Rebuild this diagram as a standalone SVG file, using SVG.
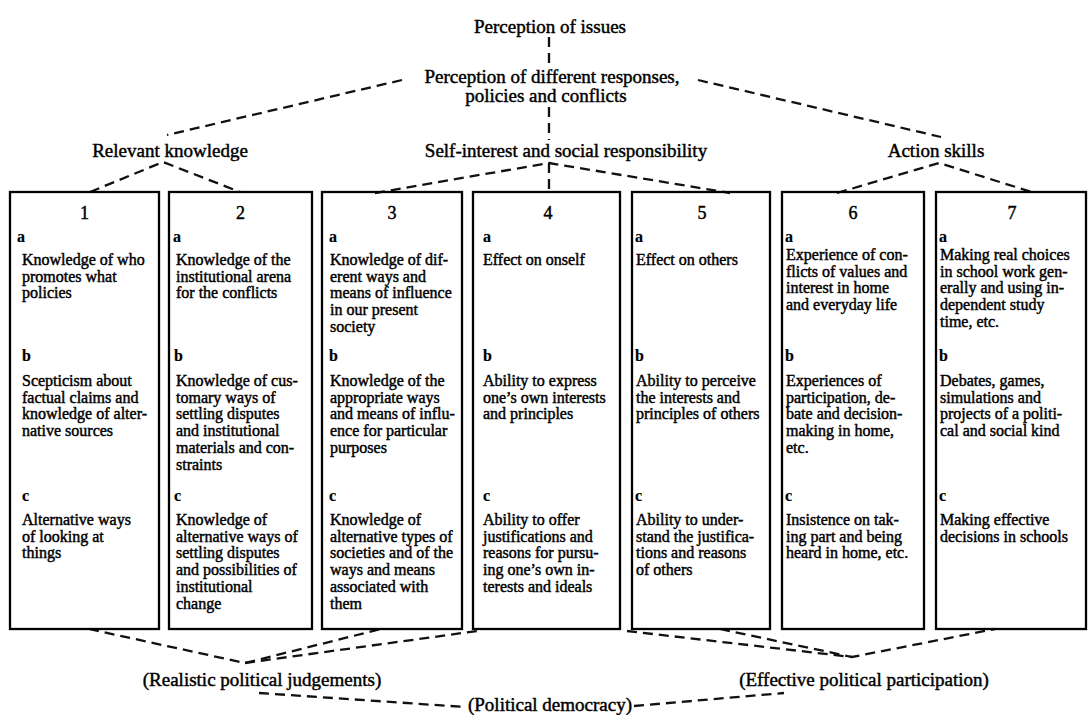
<svg xmlns="http://www.w3.org/2000/svg" width="1088" height="715" viewBox="0 0 1088 715">
<style>
  .bg { fill:#fff; }
  .box { fill:none; stroke:#000; stroke-width:2.3; }
  .dash { fill:none; stroke:#111; stroke-width:2.3; stroke-dasharray:10 6; }
  text { font-family:"Liberation Serif", "Times New Roman", serif; fill:#000; stroke:#000; stroke-width:0.45; }
  .h { font-size:19px; text-anchor:middle; }
  .num { font-size:18px; text-anchor:middle; }
  .lbl { font-size:16px; font-weight:bold; stroke-width:0.2; }
  .t { font-size:16px; }
</style>
<rect class="bg" x="0" y="0" width="1088" height="715"/>

<g id="connectors">
  <line class="dash" x1="549" y1="37" x2="549" y2="65"/>
  <line class="dash" x1="549" y1="107" x2="549" y2="140"/>
  <line class="dash" x1="402" y1="80" x2="167" y2="135"/>
  <line class="dash" x1="698" y1="80" x2="941" y2="137"/>
  <polyline class="dash" points="90,192 163,162 240,192"/>
  <polyline class="dash" points="375,193 549,163 730,193"/>
  <line class="dash" x1="549" y1="163" x2="549" y2="192"/>
  <polyline class="dash" points="837,193 939,163 1035,193"/>
  <polyline class="dash" points="89,629 245,663 381,629"/>
  <line class="dash" x1="245" y1="663" x2="477" y2="631"/>
  <polyline class="dash" points="627,631 852,657 995,629"/>
  <line class="dash" x1="720" y1="629" x2="852" y2="657"/>
  <line class="dash" x1="259" y1="693" x2="465" y2="707"/>
  <line class="dash" x1="634" y1="706" x2="784" y2="693"/>
</g>

<g id="header-issues"><text class="h" x="550" y="33">Perception of issues</text></g>
<g id="header-responses">
  <text class="h" x="552" y="83">Perception of different responses,</text>
  <text class="h" x="546" y="102">policies and conflicts</text>
</g>
<g id="header-knowledge"><text class="h" x="170" y="157">Relevant knowledge</text></g>
<g id="header-self"><text class="h" x="566" y="157">Self-interest and social responsibility</text></g>
<g id="header-action"><text class="h" x="936" y="157">Action skills</text></g>

<g id="box1">
  <rect class="box" x="10" y="192" width="149" height="437"/>
  <text class="num" x="84.5" y="219">1</text>
  <text class="lbl" x="17" y="242">a</text>
  <text class="t" x="22" y="265"><tspan x="22">Knowledge of who</tspan><tspan x="22" dy="16.7">promotes what</tspan><tspan x="22" dy="16.7">policies</tspan></text>
  <text class="lbl" x="22" y="361">b</text>
  <text class="t" x="22" y="386"><tspan x="22">Scepticism about</tspan><tspan x="22" dy="16.7">factual claims and</tspan><tspan x="22" dy="16.7">knowledge of alter-</tspan><tspan x="22" dy="16.7">native sources</tspan></text>
  <text class="lbl" x="22" y="501">c</text>
  <text class="t" x="22" y="525"><tspan x="22">Alternative ways</tspan><tspan x="22" dy="16.7">of looking at</tspan><tspan x="22" dy="16.7">things</tspan></text>
</g>

<g id="box2">
  <rect class="box" x="169" y="192" width="143" height="437"/>
  <text class="num" x="240.5" y="219">2</text>
  <text class="lbl" x="173" y="242">a</text>
  <text class="t" x="176" y="265"><tspan x="176">Knowledge of the</tspan><tspan x="176" dy="16.7">institutional arena</tspan><tspan x="176" dy="16.7">for the conflicts</tspan></text>
  <text class="lbl" x="174" y="361">b</text>
  <text class="t" x="176" y="386"><tspan x="176">Knowledge of cus-</tspan><tspan x="176" dy="16.7">tomary ways of</tspan><tspan x="176" dy="16.7">settling disputes</tspan><tspan x="176" dy="16.7">and institutional</tspan><tspan x="176" dy="16.7">materials and con-</tspan><tspan x="176" dy="16.7">straints</tspan></text>
  <text class="lbl" x="174" y="501">c</text>
  <text class="t" x="176" y="525"><tspan x="176">Knowledge of</tspan><tspan x="176" dy="16.7">alternative ways of</tspan><tspan x="176" dy="16.7">settling disputes</tspan><tspan x="176" dy="16.7">and possibilities of</tspan><tspan x="176" dy="16.7">institutional</tspan><tspan x="176" dy="16.7">change</tspan></text>
</g>

<g id="box3">
  <rect class="box" x="322" y="192" width="140" height="437"/>
  <text class="num" x="392" y="219">3</text>
  <text class="lbl" x="329" y="242">a</text>
  <text class="t" x="330" y="265"><tspan x="330">Knowledge of dif-</tspan><tspan x="330" dy="16.7">erent ways and</tspan><tspan x="330" dy="16.7">means of influence</tspan><tspan x="330" dy="16.7">in our present</tspan><tspan x="330" dy="16.7">society</tspan></text>
  <text class="lbl" x="329" y="361">b</text>
  <text class="t" x="330" y="386"><tspan x="330">Knowledge of the</tspan><tspan x="330" dy="16.7">appropriate ways</tspan><tspan x="330" dy="16.7">and means of influ-</tspan><tspan x="330" dy="16.7">ence for particular</tspan><tspan x="330" dy="16.7">purposes</tspan></text>
  <text class="lbl" x="329" y="501">c</text>
  <text class="t" x="330" y="525"><tspan x="330">Knowledge of</tspan><tspan x="330" dy="16.7">alternative types of</tspan><tspan x="330" dy="16.7">societies and of the</tspan><tspan x="330" dy="16.7">ways and means</tspan><tspan x="330" dy="16.7">associated with</tspan><tspan x="330" dy="16.7">them</tspan></text>
</g>

<g id="box4">
  <rect class="box" x="473" y="192" width="147" height="437"/>
  <text class="num" x="548" y="219">4</text>
  <text class="lbl" x="483" y="242">a</text>
  <text class="t" x="483" y="265">Effect on onself</text>
  <text class="lbl" x="483" y="361">b</text>
  <text class="t" x="483" y="386"><tspan x="483">Ability to express</tspan><tspan x="483" dy="16.7">one’s own interests</tspan><tspan x="483" dy="16.7">and principles</tspan></text>
  <text class="lbl" x="483" y="501">c</text>
  <text class="t" x="483" y="525"><tspan x="483">Ability to offer</tspan><tspan x="483" dy="16.7">justifications and</tspan><tspan x="483" dy="16.7">reasons for pursu-</tspan><tspan x="483" dy="16.7">ing one’s own in-</tspan><tspan x="483" dy="16.7">terests and ideals</tspan></text>
</g>

<g id="box5">
  <rect class="box" x="632" y="192" width="138" height="437"/>
  <text class="num" x="702" y="219">5</text>
  <text class="lbl" x="635" y="242">a</text>
  <text class="t" x="636" y="265">Effect on others</text>
  <text class="lbl" x="635" y="361">b</text>
  <text class="t" x="636" y="386"><tspan x="636">Ability to perceive</tspan><tspan x="636" dy="16.7">the interests and</tspan><tspan x="636" dy="16.7">principles of others</tspan></text>
  <text class="lbl" x="635" y="501">c</text>
  <text class="t" x="636" y="525"><tspan x="636">Ability to under-</tspan><tspan x="636" dy="16.7">stand the justifica-</tspan><tspan x="636" dy="16.7">tions and reasons</tspan><tspan x="636" dy="16.7">of others</tspan></text>
</g>

<g id="box6">
  <rect class="box" x="782" y="192" width="142" height="437"/>
  <text class="num" x="853" y="219">6</text>
  <text class="lbl" x="785" y="242">a</text>
  <text class="t" x="786" y="260"><tspan x="786">Experience of con-</tspan><tspan x="786" dy="16.7">flicts of values and</tspan><tspan x="786" dy="16.7">interest in home</tspan><tspan x="786" dy="16.7">and everyday life</tspan></text>
  <text class="lbl" x="785" y="361">b</text>
  <text class="t" x="786" y="386"><tspan x="786">Experiences of</tspan><tspan x="786" dy="16.7">participation, de-</tspan><tspan x="786" dy="16.7">bate and decision-</tspan><tspan x="786" dy="16.7">making in home,</tspan><tspan x="786" dy="16.7">etc.</tspan></text>
  <text class="lbl" x="785" y="501">c</text>
  <text class="t" x="786" y="525"><tspan x="786">Insistence on tak-</tspan><tspan x="786" dy="16.7">ing part and being</tspan><tspan x="786" dy="16.7">heard in home, etc.</tspan></text>
</g>

<g id="box7">
  <rect class="box" x="936" y="192" width="150" height="437"/>
  <text class="num" x="1012" y="219">7</text>
  <text class="lbl" x="939" y="242">a</text>
  <text class="t" x="940" y="260"><tspan x="940">Making real choices</tspan><tspan x="940" dy="16.7">in school work gen-</tspan><tspan x="940" dy="16.7">erally and using in-</tspan><tspan x="940" dy="16.7">dependent study</tspan><tspan x="940" dy="16.7">time, etc.</tspan></text>
  <text class="lbl" x="939" y="361">b</text>
  <text class="t" x="940" y="386"><tspan x="940">Debates, games,</tspan><tspan x="940" dy="16.7">simulations and</tspan><tspan x="940" dy="16.7">projects of a politi-</tspan><tspan x="940" dy="16.7">cal and social kind</tspan></text>
  <text class="lbl" x="939" y="501">c</text>
  <text class="t" x="940" y="525"><tspan x="940">Making effective</tspan><tspan x="940" dy="16.7">decisions in schools</tspan></text>
</g>

<g id="outcome-judgements"><text class="h" x="262" y="686">(Realistic political judgements)</text></g>
<g id="outcome-participation"><text class="h" x="864" y="686">(Effective political participation)</text></g>
<g id="outcome-democracy"><text class="h" x="550" y="711">(Political democracy)</text></g>
</svg>
